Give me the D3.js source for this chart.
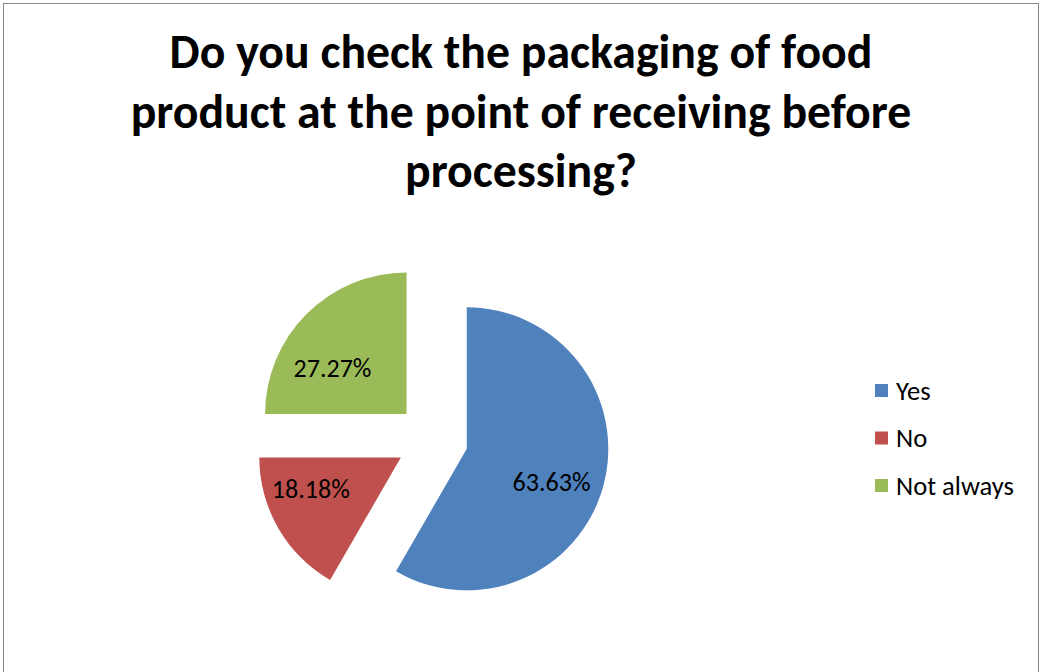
<!DOCTYPE html>
<html><head><meta charset="utf-8">
<script src="https://cdn.jsdelivr.net/npm/d3@7"></script>
<style>body{margin:0;background:#fff}svg{display:block}</style>
</head><body>
<script>
const categories = ["Yes", "No", "Not always"];
const values = [63.63, 18.18, 27.27];
const labels = ["63.63%", "18.18%", "27.27%"];
const colors = ["#4F81BD", "#C0504D", "#9BBB59"];
const titleLines = ["Do you check the packaging of food", "product at the point of receiving before", "processing?"];

const W = 1040, H = 672;
const svg = d3.select("body").append("svg").attr("width", W).attr("height", H);
svg.append("rect").attr("x", 0).attr("y", 0).attr("width", W).attr("height", H).attr("fill", "#fff");
svg.append("rect").attr("x", 3.5).attr("y", 3.5).attr("width", 1035).attr("height", 700)
  .attr("fill", "none").attr("stroke", "#878787").attr("stroke-width", 1);

const font = "Carlito, Calibri, Lato, 'Open Sans', sans-serif";

// title
const title = svg.append("g");
const tl = title.selectAll("text").data(titleLines).join("text")
  .attr("x", 521).attr("y", (d, i) => 68 + i * 59.5)
  .attr("text-anchor", "middle").attr("font-family", font).attr("font-weight", "bold")
  .attr("font-size", 100).attr("fill", "#000").text(d => d);
const w0 = tl.nodes()[0].getComputedTextLength();
tl.attr("font-size", 100 * 703 / w0);

// pie
const cx = 432, cy = 439.5, r = 141.5, explode = 36;
const pie = d3.pie().sort(null).value(d => d)(values);
const arc = d3.arc().innerRadius(0).outerRadius(r);
const labelArc = d3.arc().innerRadius(r * 0.62).outerRadius(r * 0.62);
const nudge = [[0, 10], [-14, -12], [-12, 16]];
const g = svg.append("g").attr("transform", `translate(${cx},${cy})`);
const slices = g.selectAll("g.slice").data(pie).join("g").attr("class", "slice")
  .attr("transform", d => {
    const a = (d.startAngle + d.endAngle) / 2;
    return `translate(${explode * Math.sin(a)},${-explode * Math.cos(a)})`;
  });
slices.append("path").attr("d", arc).attr("fill", (d, i) => colors[i]);
const lab = slices.append("text")
  .attr("transform", (d, i) => { const c = labelArc.centroid(d); return `translate(${c[0] + nudge[i][0]},${c[1] + nudge[i][1]})`; })
  .attr("text-anchor", "middle").attr("dy", "0.35em")
  .attr("font-family", font).attr("font-size", 100).attr("fill", "#000")
  .text((d, i) => labels[i]);
const lw = lab.nodes()[0].getComputedTextLength();
lab.attr("font-size", 100 * 78 / lw);

// legend
const leg = svg.append("g").selectAll("g").data(categories).join("g")
  .attr("transform", (d, i) => `translate(875,${390.5 + i * 47.5})`);
leg.append("rect").attr("x", 0).attr("y", -6.5).attr("width", 13).attr("height", 13)
  .attr("fill", (d, i) => colors[i]);
const lt = leg.append("text").attr("x", 21).attr("y", 0).attr("dy", "0.35em")
  .attr("font-family", font).attr("font-size", 100).attr("fill", "#000").text(d => d);
const ltw = lt.nodes()[2].getComputedTextLength();
lt.attr("font-size", 100 * 118 / ltw);
</script>
</body></html>
